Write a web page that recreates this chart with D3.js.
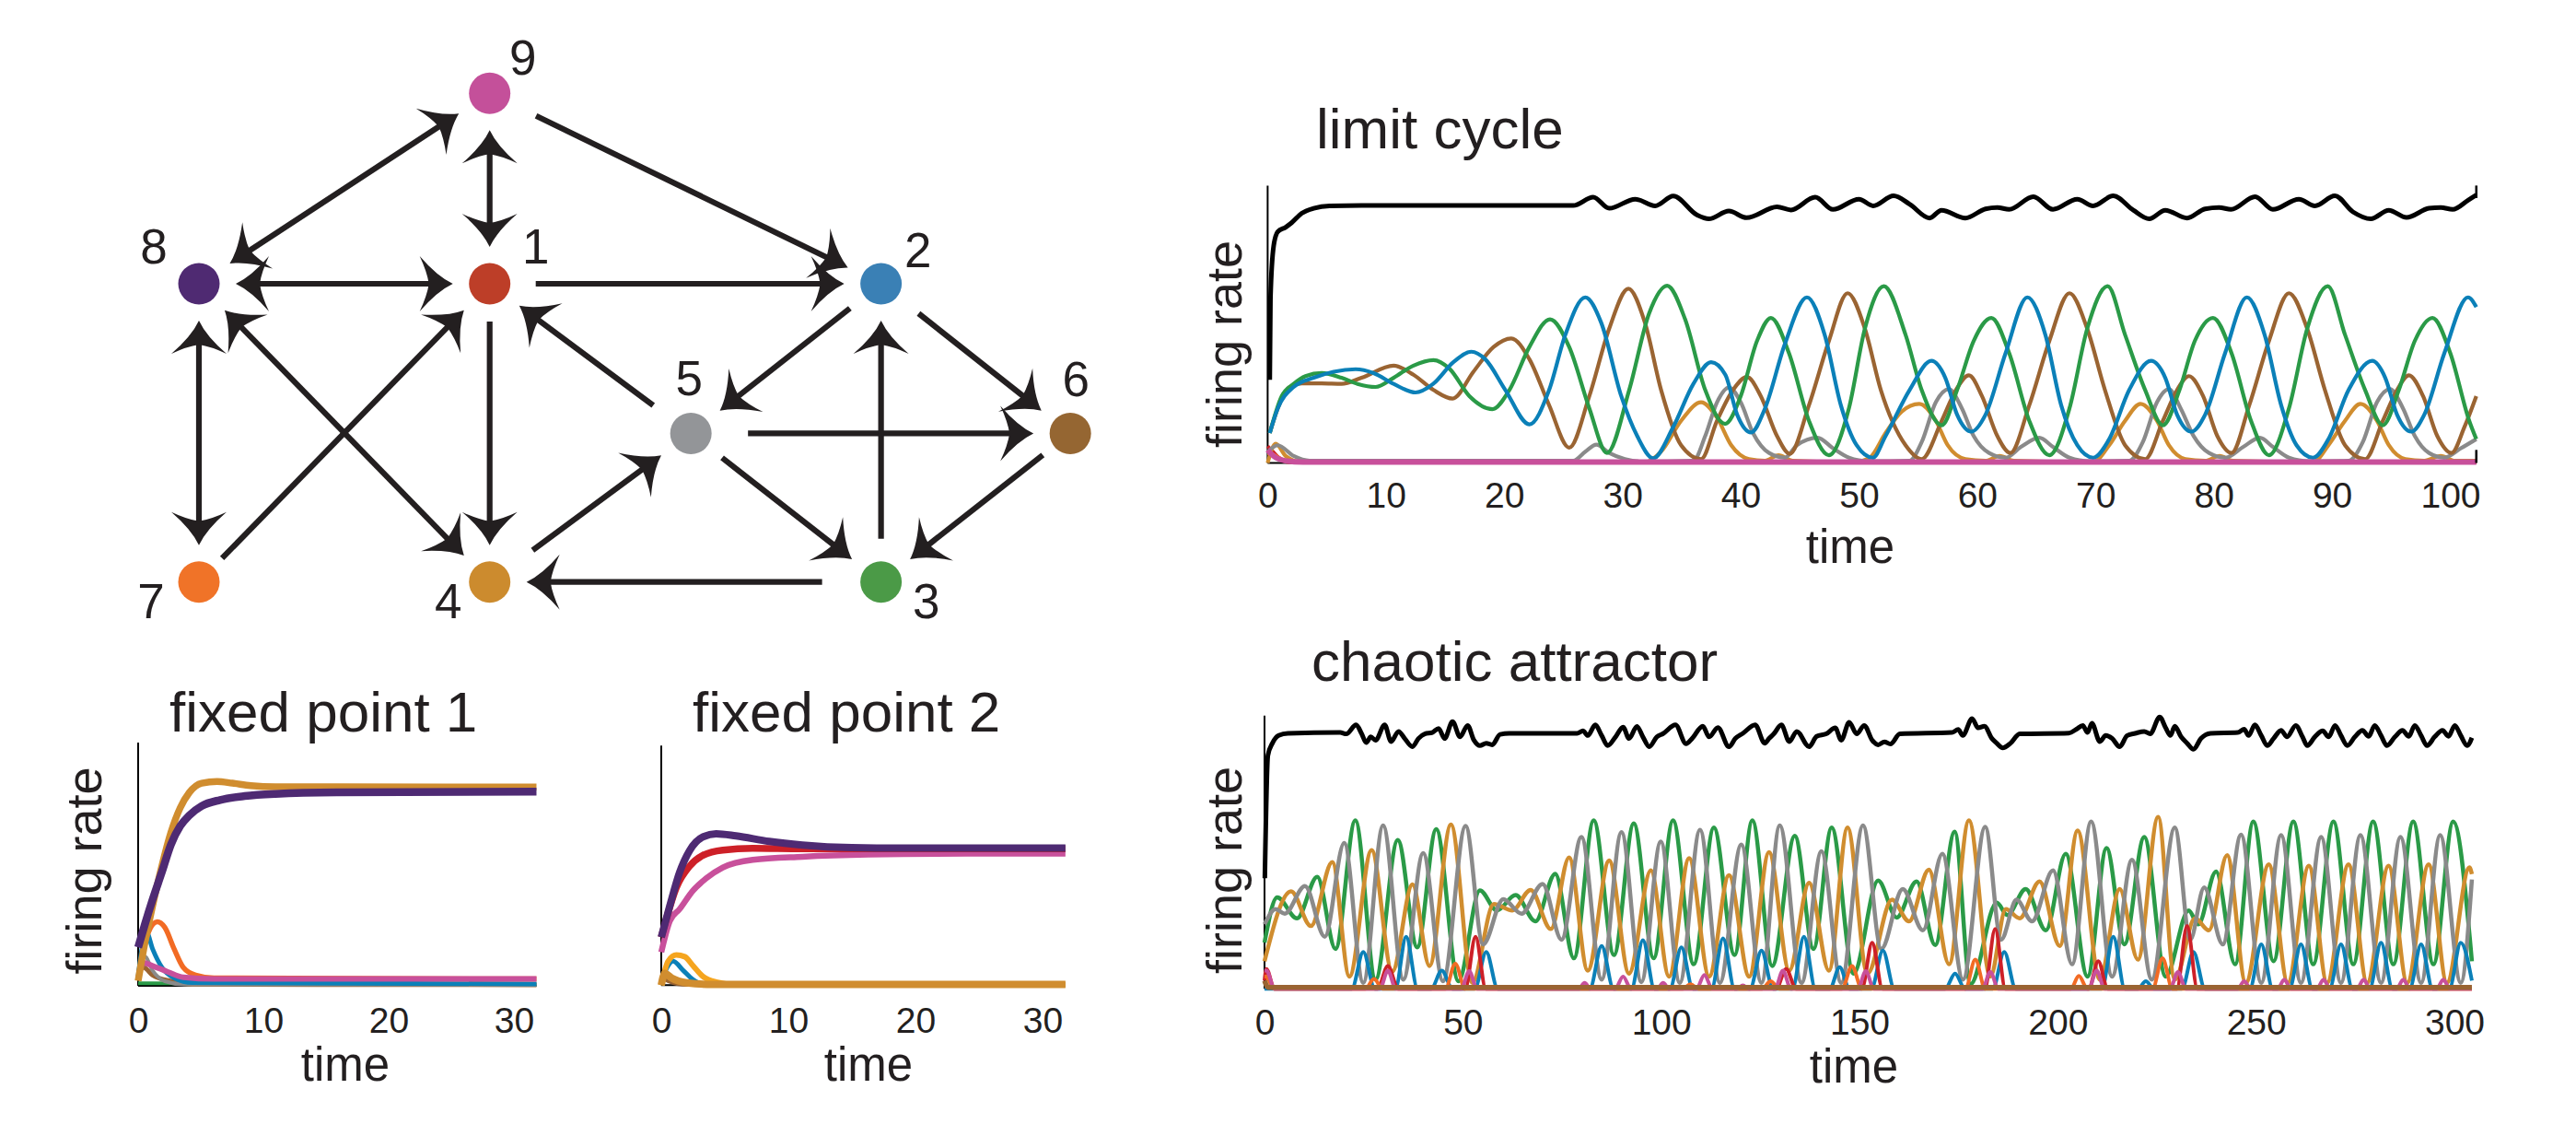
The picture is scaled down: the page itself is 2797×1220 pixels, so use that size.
<!DOCTYPE html>
<html>
<head>
<meta charset="utf-8">
<script src="https://cdn.jsdelivr.net/npm/d3@7/dist/d3.min.js"></script>
<style>
html,body{margin:0;padding:0;background:#fff;}
svg{display:block;}
text{font-family:"Liberation Sans",Arial,Helvetica,sans-serif;fill:#231f20;}
</style>
</head>
<body>
<svg id="fig" width="2797" height="1220"></svg>
<script>
// ---------------- DATA ----------------
const nodeIds = [1,2,3,4,5,6,7,8,9];
// [from, to, bidirectional]
const edges = [[9,8,true],[9,1,true],[9,2,false],[8,1,true],[1,2,false],[8,7,true],[7,1,false],[8,4,true],
  [1,4,false],[4,5,false],[5,1,false],[2,5,false],[2,6,false],[5,6,false],[5,3,false],[3,2,false],[6,3,false],[3,4,false]];

const ticksLimit = [0,10,20,30,40,50,60,70,80,90,100];
const ticksChaos = [0,50,100,150,200,250,300];
const ticksFixed = [0,10,20,30];

// limit cycle  [time, firing rate]
const lcBlack = [[0.18,0.30],[0.24,0.595],[0.51,0.783],[0.85,0.833],[1.53,0.850],[2.03,0.866],[2.88,0.90],[3.89,0.918],[5.24,0.927],[7.94,0.928],[25.84,0.928],[27.53,0.958],[28.88,0.918],[31.08,0.951],[32.77,0.927],[34.3,0.962],[36.3,0.894],[37.3,0.880],[39.0,0.908],[40.5,0.884],[43.07,0.923],[44.25,0.912],[46.3,0.958],[47.8,0.914],[50.0,0.951],[51.2,0.927],[52.93,0.963],[54.28,0.933],[55.97,0.883],[56.98,0.911],[59.0,0.883],[60.7,0.916],[61.7,0.921],[62.7,0.914],[64.75,0.960],[66.4,0.914],[68.46,0.951],[69.8,0.927],[71.5,0.963],[73.2,0.911],[74.54,0.880],[75.9,0.911],[77.75,0.883],[79.27,0.916],[80.45,0.921],[81.46,0.914],[83.5,0.960],[85.0,0.914],[87.2,0.951],[88.56,0.927],[90.24,0.963],[91.77,0.905],[93.28,0.880],[94.8,0.911],[96.3,0.885],[98.2,0.918],[99.2,0.921],[100.2,0.914],[101.56,0.949],[102.2,0.966]];
const lcBlue = [[0.18,0.108],[0.85,0.196],[2.2,0.274],[3.89,0.307],[5.58,0.329],[7.44,0.338],[8.96,0.324],[10.65,0.285],[12.5,0.254],[14.0,0.285],[15.7,0.363],[17.23,0.401],[18.4,0.374],[20.1,0.263],[22.13,0.139],[23.8,0.263],[25.17,0.462],[26.86,0.597],[28.2,0.506],[29.9,0.241],[31.25,0.097],[32.6,0.017],[34.3,0.130],[36.0,0.285],[37.5,0.363],[38.7,0.318],[39.7,0.174],[40.87,0.110],[42.05,0.196],[43.74,0.429],[45.6,0.597],[47.1,0.462],[48.47,0.208],[49.8,0.064],[51.17,0.019],[52.25,0.097],[54.28,0.263],[56.13,0.368],[57.3,0.307],[58.3,0.174],[59.5,0.113],[60.7,0.174],[62.4,0.396],[64.24,0.597],[65.76,0.462],[67.1,0.208],[68.46,0.064],[69.8,0.019],[71.16,0.086],[72.85,0.263],[74.7,0.368],[75.9,0.307],[76.9,0.174],[78.1,0.113],[79.27,0.174],[80.96,0.396],[82.8,0.597],[84.3,0.462],[85.7,0.208],[87.0,0.064],[88.4,0.019],[89.7,0.086],[91.4,0.263],[93.4,0.368],[94.5,0.307],[95.5,0.174],[96.7,0.113],[97.8,0.174],[99.5,0.396],[101.5,0.597],[102.2,0.562]];
const lcGreen = [[0.18,0.108],[1.19,0.241],[2.2,0.285],[3.2,0.313],[4.57,0.324],[6.25,0.307],[7.6,0.285],[9.13,0.274],[10.65,0.307],[12.33,0.351],[14.02,0.371],[15.37,0.340],[17.06,0.241],[19.0,0.194],[20.44,0.263],[22.13,0.418],[23.88,0.518],[25.5,0.418],[27.2,0.197],[28.7,0.036],[30.57,0.263],[32.26,0.540],[33.78,0.639],[35.3,0.518],[37.0,0.263],[38.68,0.141],[40.0,0.241],[41.38,0.440],[42.56,0.523],[44.08,0.396],[45.77,0.152],[47.46,0.028],[49.15,0.197],[50.5,0.484],[52.1,0.637],[53.94,0.462],[55.3,0.263],[57.0,0.136],[58.3,0.263],[59.7,0.440],[61.2,0.523],[62.7,0.396],[64.4,0.152],[66.1,0.028],[67.8,0.197],[69.3,0.484],[71.03,0.637],[72.5,0.462],[74.2,0.263],[75.7,0.136],[77.1,0.263],[78.4,0.440],[79.94,0.523],[81.5,0.396],[83.15,0.152],[84.67,0.028],[86.36,0.197],[87.9,0.484],[89.64,0.637],[91.1,0.462],[92.8,0.263],[94.3,0.136],[95.65,0.263],[97.0,0.440],[98.5,0.523],[100.0,0.396],[101.6,0.152],[102.2,0.086]];
const lcBrown = [[0.18,0.108],[0.85,0.196],[1.86,0.274],[2.88,0.287],[4.57,0.287],[6.25,0.285],[7.94,0.307],[10.65,0.351],[12.33,0.318],[14.02,0.263],[15.64,0.232],[17.4,0.329],[19.1,0.418],[20.6,0.449],[22.13,0.374],[23.8,0.208],[25.5,0.055],[27.2,0.241],[28.88,0.484],[30.5,0.628],[31.9,0.506],[33.27,0.263],[34.96,0.064],[36.65,0.014],[38.0,0.152],[39.35,0.263],[40.53,0.310],[41.7,0.241],[43.07,0.097],[44.15,0.033],[45.77,0.208],[47.46,0.440],[49.04,0.612],[50.5,0.484],[51.85,0.263],[53.94,0.064],[55.3,0.014],[57.0,0.152],[58.2,0.263],[59.3,0.316],[60.4,0.241],[61.7,0.097],[62.8,0.036],[64.4,0.208],[66.1,0.440],[67.8,0.612],[69.3,0.484],[70.8,0.263],[72.5,0.064],[74.2,0.014],[75.7,0.152],[76.9,0.263],[77.9,0.313],[79.1,0.241],[80.3,0.097],[81.5,0.036],[83.0,0.208],[84.67,0.440],[86.36,0.612],[87.9,0.484],[89.4,0.263],[91.1,0.064],[92.8,0.014],[94.3,0.152],[95.5,0.263],[96.5,0.316],[97.7,0.241],[98.9,0.097],[100.1,0.036],[101.2,0.130],[102.2,0.241]];
const lcGold = [[0,0],[0.68,0.069],[1.53,0.025],[2.88,0.003],[31.9,0.003],[33.27,0.041],[34.96,0.152],[36.65,0.219],[38.0,0.163],[39.2,0.064],[40.7,0.014],[42.05,0.008],[43.2,0.028],[44.4,0.008],[49.5,0.003],[50.9,0.019],[52.25,0.108],[53.6,0.185],[55.1,0.213],[56.5,0.152],[57.5,0.064],[59.0,0.014],[60.7,0.008],[61.9,0.025],[63.1,0.008],[69.8,0.003],[71.16,0.064],[72.5,0.152],[73.8,0.213],[75.2,0.152],[76.2,0.064],[77.6,0.014],[79.27,0.008],[80.5,0.025],[81.6,0.008],[88.4,0.003],[89.7,0.064],[91.1,0.152],[92.4,0.213],[93.8,0.152],[94.8,0.064],[96.2,0.014],[97.8,0.008],[99.2,0.025],[100.4,0.008],[102.2,0.008]];
const lcGray = [[0,0.04],[0.85,0.064],[2.2,0.025],[3.55,0.008],[25.84,0.008],[26.86,0.041],[27.8,0.066],[28.88,0.036],[30.2,0.014],[31.6,0.005],[36.0,0.008],[37.0,0.097],[38.0,0.219],[39.0,0.272],[40.0,0.219],[41.04,0.108],[42.4,0.036],[43.74,0.019],[44.75,0.064],[46.5,0.091],[47.8,0.053],[49.15,0.019],[50.8,0.006],[54.28,0.008],[55.3,0.075],[56.5,0.219],[57.6,0.266],[58.7,0.197],[59.7,0.097],[61.0,0.036],[62.4,0.019],[63.7,0.058],[65.25,0.091],[66.4,0.058],[67.8,0.019],[69.5,0.006],[72.85,0.008],[74.0,0.075],[75.2,0.219],[76.2,0.266],[77.2,0.197],[78.3,0.097],[79.6,0.036],[81.0,0.019],[82.5,0.058],[83.9,0.091],[85.0,0.058],[86.36,0.019],[88.05,0.006],[91.4,0.008],[92.6,0.075],[93.8,0.219],[94.9,0.266],[96.0,0.197],[97.0,0.097],[98.2,0.036],[99.5,0.019],[100.9,0.053],[102.2,0.086]];
const lcPink = [[0,0.047],[0.5,0.025],[1.5,0.008],[3,0.003],[102.2,0.003]];
const lcRed = [[0,0.06],[0.35,0.045],[0.9,0.02],[1.8,0.003],[102.2,0.003]];
const lcOrange = [[0,0.035],[0.5,0.03],[1.5,0.008],[3,0.002],[102.2,0.002]];

// chaotic attractor [time, firing rate]
const caBlack = [[0.08,0.405],[0.85,0.854],[2.0,0.899],[3.57,0.927],[5.89,0.935],[19.07,0.938],[20.6,0.933],[23.1,0.966],[24.5,0.933],[25.66,0.901],[26.8,0.922],[28.0,0.910],[30.3,0.966],[31.9,0.905],[33.8,0.942],[35.35,0.916],[37.3,0.886],[38.8,0.916],[40.4,0.933],[42.3,0.938],[43.9,0.953],[45.4,0.916],[47.4,0.978],[49.3,0.922],[51.2,0.964],[52.8,0.910],[54.3,0.890],[55.9,0.899],[57.4,0.893],[59.4,0.931],[61.7,0.935],[78.8,0.935],[80.3,0.944],[81.5,0.927],[83.4,0.966],[85.0,0.927],[86.5,0.890],[88.5,0.922],[90.4,0.958],[91.9,0.916],[93.9,0.960],[95.4,0.922],[97.0,0.886],[98.9,0.922],[100.5,0.934],[103.6,0.966],[106.3,0.897],[107.8,0.916],[110.5,0.961],[112.1,0.922],[114.3,0.956],[117.1,0.886],[118.7,0.916],[120.6,0.935],[123.7,0.966],[126.1,0.899],[127.2,0.916],[128.4,0.933],[130.3,0.966],[132.3,0.905],[134.2,0.942],[137.3,0.886],[139.2,0.924],[141.6,0.933],[143.9,0.955],[145.4,0.910],[147.4,0.975],[149.3,0.933],[151.2,0.964],[153.2,0.910],[154.7,0.893],[156.3,0.904],[157.8,0.896],[160.2,0.933],[173.3,0.938],[174.9,0.949],[176.05,0.927],[178.4,0.989],[179.9,0.955],[181.5,0.961],[183.4,0.916],[184.6,0.899],[186.1,0.882],[188.1,0.899],[190.4,0.933],[202.8,0.936],[204.7,0.950],[206.3,0.964],[207.5,0.938],[208.6,0.972],[210.6,0.905],[212.1,0.927],[213.7,0.916],[215.6,0.886],[217.5,0.927],[219.5,0.935],[221.8,0.942],[223.3,0.933],[225.7,0.995],[227.2,0.955],[228.4,0.927],[229.5,0.961],[231.1,0.922],[232.6,0.899],[234.2,0.877],[236.1,0.916],[238.5,0.935],[245.4,0.938],[247.0,0.950],[248.1,0.927],[249.7,0.966],[251.3,0.927],[252.8,0.890],[254.4,0.916],[256.3,0.946],[257.8,0.922],[260.0,0.964],[261.7,0.922],[262.9,0.890],[264.8,0.922],[266.8,0.944],[268.3,0.922],[269.9,0.964],[271.4,0.927],[273.0,0.890],[274.9,0.922],[276.8,0.946],[278.4,0.924],[279.9,0.964],[281.5,0.927],[283.0,0.890],[285.0,0.922],[286.9,0.946],[288.5,0.924],[290.0,0.964],[291.6,0.927],[293.1,0.890],[295.0,0.922],[297.0,0.946],[298.5,0.924],[300.1,0.964],[301.6,0.927],[303.2,0.890],[304.4,0.919]];
const caGreen = [[0,0.169],[3.2,0.335],[8.2,0.258],[13.3,0.410],[17.9,0.146],[22.9,0.616],[28.0,0.034],[33.6,0.545],[38.5,0.152],[43.3,0.584],[48.9,0.028],[54.3,0.360],[58.6,0.287],[63.3,0.343],[68.3,0.247],[73.3,0.421],[78.0,0.112],[83.0,0.616],[88.1,0.124],[93.1,0.605],[98.1,0.112],[103.0,0.616],[108.2,0.090],[113.3,0.590],[118.5,0.124],[123.0,0.616],[128.0,0.084],[133.7,0.560],[138.4,0.146],[143.0,0.590],[148.5,0.056],[154.7,0.396],[159.4,0.261],[164.4,0.393],[169.1,0.160],[174.0,0.575],[178.0,0.017],[184.6,0.315],[187.3,0.270],[191.9,0.365],[197.0,0.214],[202.0,0.494],[207.5,0.045],[212.3,0.515],[216.8,0.163],[221.8,0.556],[227.2,0.045],[233.0,0.287],[235.4,0.236],[239.9,0.429],[244.7,0.090],[249.3,0.612],[254.4,0.101],[259.4,0.612],[264.4,0.090],[269.5,0.612],[274.5,0.090],[279.5,0.612],[284.6,0.090],[289.6,0.612],[294.7,0.090],[299.7,0.612],[304.4,0.101]];
const caGold = [[0,0.101],[6.7,0.357],[11.7,0.230],[17.1,0.464],[21.4,0.045],[27.0,0.508],[32.2,0.062],[37.3,0.382],[41.6,0.084],[47.0,0.601],[52.4,0.022],[57.8,0.310],[62.5,0.287],[67.1,0.362],[72.2,0.219],[76.8,0.481],[81.5,0.067],[86.9,0.470],[91.9,0.056],[97.4,0.433],[102.0,0.045],[107.06,0.478],[112.1,0.045],[117.1,0.416],[122.2,0.045],[127.2,0.500],[132.3,0.067],[137.3,0.388],[142.3,0.067],[147.0,0.590],[152.0,0.056],[158.2,0.326],[162.5,0.247],[167.5,0.436],[172.6,0.090],[177.6,0.616],[183.0,0.045],[186.9,0.292],[190.4,0.258],[195.4,0.393],[200.5,0.157],[205.0,0.579],[210.6,0.034],[215.6,0.365],[220.2,0.107],[225.3,0.629],[229.5,0.034],[234.6,0.258],[238.1,0.214],[242.7,0.489],[247.4,0.022],[253.2,0.455],[258.0,0.022],[263.3,0.450],[267.9,0.022],[273.3,0.455],[278.0,0.022],[283.4,0.450],[288.1,0.022],[293.5,0.455],[298.1,0.022],[303.8,0.444],[304.4,0.420]];
const caGray = [[0,0.236],[2.8,0.292],[5.1,0.275],[10.2,0.376],[15.2,0.191],[20.1,0.534],[24.9,0.022],[29.9,0.598],[35.0,0.034],[40.0,0.497],[45.0,0.028],[50.7,0.596],[55.1,0.163],[60.2,0.328],[64.8,0.275],[70.1,0.384],[74.9,0.180],[79.9,0.556],[85.0,0.034],[90.0,0.573],[95.0,0.025],[99.9,0.539],[104.7,0.022],[109.8,0.582],[114.8,0.022],[120.2,0.528],[125.3,0.022],[129.9,0.598],[135.4,0.022],[140.4,0.503],[145.4,0.022],[150.9,0.598],[155.5,0.146],[160.9,0.365],[166.0,0.214],[170.9,0.494],[176.1,0.034],[181.7,0.593],[185.7,0.180],[189.6,0.326],[193.5,0.247],[198.8,0.433],[203.6,0.090],[208.4,0.612],[213.7,0.045],[218.7,0.472],[223.7,0.034],[229.5,0.590],[233.4,0.180],[236.9,0.371],[241.6,0.163],[246.2,0.564],[251.3,0.022],[256.3,0.562],[261.3,0.022],[266.4,0.556],[271.4,0.022],[276.3,0.562],[281.5,0.022],[286.4,0.556],[291.6,0.022],[296.4,0.562],[301.6,0.022],[304.4,0.400]];
const caBlue = [[0,0],[22,0],[24.9,0.135],[27.8,0],[33,0],[35.7,0.191],[38.6,0],[42,0],[44.7,0.067],[47.4,0],[53,0],[55.9,0.135],[58.8,0],[82,0],[85.0,0.157],[88,0],[92.5,0],[95.4,0.178],[98.3,0],[102.2,0],[105.1,0.152],[108,0],[112.7,0],[115.6,0.185],[118.5,0],[122.4,0],[125.3,0.140],[128.2,0],[133.1,0],[136.0,0.191],[138.9,0],[142.5,0],[145.0,0.079],[147.5,0],[153,0],[155.9,0.140],[158.8,0],[171.6,0],[174.1,0.056],[176.6,0],[183.6,0],[186.5,0.135],[189.4,0],[211.1,0],[214.0,0.191],[216.9,0],[220.2,0],[222.2,0.028],[224.2,0],[231.3,0],[234.2,0.135],[237.1,0],[248.4,0],[251.3,0.163],[254.2,0],[258.4,0],[261.3,0.163],[264.2,0],[268.5,0],[271.4,0.163],[274.3,0],[278.6,0],[281.5,0.169],[284.4,0],[288.7,0],[291.6,0.163],[294.5,0],[298.7,0],[301.6,0.169],[304.4,0.03]];
const caRed = [[0,0.03],[0.47,0.073],[2.5,0],[28.5,0],[31.1,0.084],[33.7,0],[50.6,0],[53.2,0.191],[55.8,0],[129,0],[131.5,0.073],[134,0],[150.6,0],[153.2,0.169],[155.8,0],[181.6,0],[184.2,0.219],[186.8,0],[207.8,0],[210.2,0.101],[212.6,0],[230,0],[232.6,0.230],[235.2,0],[304.4,0]];
const caOrange = [[0,0.045],[0.3,0.045],[2.5,0],[25.4,0],[27.6,0.036],[29.8,0],[45.6,0],[48.1,0.092],[50.6,0],[105.4,0],[107.4,0.017],[109.4,0],[125.4,0],[127.6,0.028],[129.8,0],[145.6,0],[148.1,0.084],[150.6,0],[176.7,0],[179.2,0.107],[181.7,0],[203.3,0],[205.3,0.047],[207.5,0],[223.9,0],[226.4,0.112],[228.9,0],[304.4,0]];
const caPink = [[0,0.067],[0.5,0.067],[2.5,0],[29.1,0],[31.1,0.067],[33.1,0],[49.6,0],[51.6,0.065],[53.6,0],[79.2,0],[80.7,0.022],[82.2,0],[88.4,0],[90.4,0.045],[92.4,0],[99,0],[100.5,0.022],[102,0],[108.9,0],[110.9,0.051],[112.9,0],[119.1,0],[120.6,0.013],[122.1,0],[128.7,0],[130.7,0.067],[132.7,0],[149.6,0],[151.6,0.065],[153.6,0],[181,0],[183.0,0.062],[185,0],[207.8,0],[209.8,0.067],[211.8,0],[228.3,0],[230.3,0.062],[232.3,0],[245.3,0],[247.0,0.028],[248.7,0],[255.4,0],[257.1,0.034],[258.8,0],[265.3,0],[267.0,0.034],[268.7,0],[275.4,0],[277.1,0.034],[278.8,0],[285.4,0],[287.1,0.034],[288.8,0],[295.5,0],[297.2,0.034],[298.9,0],[304.4,0]];
const caBrown = [[0,0.03],[1,0.005],[304.4,0.005]];

// fixed point 1
const fp1Gold = [[0,0.02],[0.54,0.177],[1.15,0.328],[1.89,0.492],[2.62,0.631],[3.36,0.732],[4.09,0.795],[5.07,0.833],[6.3,0.840],[7.52,0.833],[9.0,0.823],[10.96,0.818],[15.86,0.818],[31.8,0.817]];
const fp1Purple = [[0,0.158],[0.54,0.253],[1.15,0.354],[1.89,0.467],[2.62,0.581],[3.36,0.657],[4.09,0.701],[5.07,0.739],[6.54,0.764],[8.5,0.780],[10.96,0.789],[15.86,0.795],[31.8,0.798]];
const fp1Orange = [[0,0.03],[0.78,0.215],[1.52,0.263],[2.13,0.240],[2.87,0.152],[3.6,0.076],[4.58,0.044],[6.05,0.032],[31.8,0.028]];
const fp1Blue = [[0,0.04],[0.66,0.221],[1.15,0.152],[1.89,0.076],[2.87,0.032],[4.34,0.013],[31.8,0.008]];
const fp1Gray = [[0,0.06],[0.54,0.120],[1.15,0.063],[2.13,0.019],[3.6,0.006],[31.8,0.004]];
const fp1Brown = [[0,0.05],[0.42,0.076],[1.15,0.044],[2.62,0.019],[4.34,0.006],[31.8,0.004]];
const fp1Pink = [[0,0.025],[0.42,0.095],[1.15,0.082],[2.38,0.057],[3.6,0.035],[6.05,0.028],[31.8,0.028]];
const fp1Green = [[0,0.01],[31.8,0.006]];

// fixed point 2
const fp2Purple = [[0,0.20],[0.67,0.331],[1.45,0.472],[2.23,0.562],[3.28,0.619],[4.32,0.632],[5.88,0.623],[8.49,0.600],[11.1,0.585],[14.98,0.574],[18.9,0.572],[31.8,0.572]];
const fp2Red = [[0,0.20],[0.28,0.254],[1.19,0.408],[2.23,0.497],[3.28,0.542],[4.84,0.564],[7.2,0.571],[11.1,0.569],[31.8,0.569]];
const fp2Pink = [[0,0.138],[0.67,0.267],[1.45,0.318],[2.5,0.395],[3.54,0.446],[4.84,0.491],[7.2,0.523],[11.1,0.536],[16.3,0.545],[24.1,0.549],[31.8,0.549]];
const fp2Orange = [[0,0.0],[0.54,0.10],[1.19,0.126],[1.84,0.119],[2.5,0.081],[3.28,0.036],[4.32,0.013],[5.88,0.003],[31.8,0.002]];
const fp2Blue = [[0,0.02],[0.93,0.10],[1.71,0.062],[2.5,0.023],[3.28,0.004],[31.8,0.002]];
const fp2Brown = [[0,0.04],[0.5,0.02],[2,0.003],[31.8,0.002]];
const fp2Gold = [[0,0.0],[0.28,0.049],[0.8,0.03],[2.0,0.01],[4.0,0.003],[31.8,0.003]];

// ---------------- DRAWING ----------------
const svg = d3.select("#fig");
svg.append("rect").attr("width",2797).attr("height",1220).attr("fill","#fff");

const nodeColor = {1:"#bd3e28",2:"#3a80b5",3:"#4b9a47",4:"#cc8b2e",5:"#939598",6:"#956632",7:"#f07328",8:"#4f2a72",9:"#c4509a"};
const C = {blue:"#0b80b8",green:"#2a9a47",brown:"#9a6432",gold:"#d08d2f",gray:"#8a8a8a",pink:"#c8509b",red:"#cd2028",purple:"#4e2a73",orange:"#f26b24",amber:"#f5a51f"};

// network layout (grid units)
const layout = {1:[1,1],2:[2.346,1],3:[2.346,2.566],4:[1,2.566],5:[1.692,1.786],6:[2.997,1.786],7:[0,2.566],8:[0,1],9:[1,0]};
const gx = d3.scaleLinear([0,1],[216,531.7]);
const gy = d3.scaleLinear([0,1],[101.3,308]);
const P = id => [gx(layout[id][0]), gy(layout[id][1])];
const labelOff = {9:[36,-39],8:[-49,-41],1:[50,-41],2:[40,-37],5:[-2,-60],6:[6,-59],7:[-52,20],4:[-45,20],3:[49,20]};
const startGap = {"9-2":56,"5-1":51,"7-1":36,"3-4":64,"3-2":47,"5-6":62,"5-3":43,"4-5":58,"6-3":38,"2-5":43,"2-6":52,"1-4":41,"1-2":50};
const arrowD = "M0,0 Q-17,-8 -36,-30 Q-28,-13 -26,0 Q-28,13 -36,30 Q-17,8 0,0 Z";
const ink = "#231f20";

const net = svg.append("g");
edges.forEach(([a,b,bi]) => {
  const [x1,y1] = P(a), [x2,y2] = P(b);
  const L = Math.hypot(x2-x1,y2-y1), ux=(x2-x1)/L, uy=(y2-y1)/L;
  const tip = 40;
  const sg = bi ? tip : (startGap[a+"-"+b] || 48);
  const sx=x1+ux*sg, sy=y1+uy*sg, ex=x2-ux*tip, ey=y2-uy*tip;
  const lx1 = bi ? sx+ux*24 : sx, ly1 = bi ? sy+uy*24 : sy;
  net.append("line").attr("x1",lx1).attr("y1",ly1).attr("x2",ex-ux*24).attr("y2",ey-uy*24)
    .attr("stroke",ink).attr("stroke-width",6.2);
  const ang = Math.atan2(uy,ux)*180/Math.PI;
  net.append("path").attr("d",arrowD).attr("fill",ink).attr("transform",`translate(${ex},${ey}) rotate(${ang})`);
  if (bi) net.append("path").attr("d",arrowD).attr("fill",ink).attr("transform",`translate(${sx},${sy}) rotate(${ang+180})`);
});
nodeIds.forEach(id => {
  const [x,y] = P(id);
  net.append("circle").attr("cx",x).attr("cy",y).attr("r",22.5).attr("fill",nodeColor[id]);
  net.append("text").attr("x",x+labelOff[id][0]).attr("y",y+labelOff[id][1]+19)
    .attr("text-anchor","middle").attr("font-size",53).text(id);
});

function panel(cfg){
  const g = svg.append("g");
  const x = cfg.x, y = cfg.y;
  const line = d3.line().x(d=>x(d[0])).y(d=>y(d[1])).curve(d3.curveMonotoneX);
  g.append("line").attr("x1",x(0)).attr("x2",x(0)).attr("y1",y(0)).attr("y2",y(1)).attr("stroke","#000").attr("stroke-width",2);
  g.append("line").attr("x1",x(0)).attr("x2",x(cfg.tEnd)).attr("y1",y(0)).attr("y2",y(0)).attr("stroke","#000").attr("stroke-width",2);
  const ax = g.append("g").attr("transform",`translate(0,${y(0)})`)
    .call(d3.axisBottom(x).tickValues(cfg.ticks).tickSize(0).tickFormat(d3.format("d")));
  ax.select(".domain").remove();
  ax.selectAll("text").attr("y",cfg.tickBase - y(0)).attr("dy",null)
    .attr("font-size",39).attr("font-family","'Liberation Sans',Arial,Helvetica,sans-serif").attr("fill",ink);
  cfg.series.forEach(s => {
    g.append("path").datum(s.data).attr("d",line).attr("fill","none")
      .attr("stroke",s.color).attr("stroke-width",s.w).attr("stroke-linejoin","round").attr("stroke-linecap","butt");
  });
  g.append("text").attr("x",cfg.title[1]).attr("y",cfg.title[2]).attr("font-size",62).text(cfg.title[0]);
  g.append("text").attr("x",cfg.timeLab[0]).attr("y",cfg.timeLab[1]).attr("text-anchor","middle").attr("font-size",51).text("time");
  if (cfg.yLab) g.append("text").attr("transform",`translate(${cfg.yLab[0]},${cfg.yLab[1]}) rotate(-90)`)
    .attr("text-anchor","middle").attr("font-size",54).text("firing rate");
  return g;
}

const lcX = d3.scaleLinear([0,100],[1376.4,2660.5]), lcY = d3.scaleLinear([0,1],[502.5,201.4]);
const lc = panel({
  x: lcX, y: lcY, tEnd:102.2,
  ticks: ticksLimit, tickBase: 551, title:["limit cycle",1429,161], timeLab:[2009,611], yLab:[1348,373.5],
  series:[
    {data:lcRed,color:C.red,w:4},{data:lcOrange,color:C.orange,w:4},
    {data:lcGold,color:C.gold,w:4.2},{data:lcGray,color:C.gray,w:4.2},
    {data:lcBrown,color:C.brown,w:4.2},{data:lcGreen,color:C.green,w:4.2},{data:lcBlue,color:C.blue,w:4.2},
    {data:lcPink,color:C.pink,w:6},{data:lcBlack,color:"#000",w:5}
  ]
});
lc.append("line").attr("x1",lcX(102.2)).attr("x2",lcX(102.2)).attr("y1",lcY(1)).attr("y2",lcY(0.955)).attr("stroke","#000").attr("stroke-width",2.5);
lc.append("line").attr("x1",lcX(102.2)).attr("x2",lcX(102.2)).attr("y1",lcY(0.047)).attr("y2",lcY(0)).attr("stroke","#000").attr("stroke-width",2.5);

panel({
  x: d3.scaleLinear([0,300],[1373,2665]), y: d3.scaleLinear([0,1],[1073.3,776.7]), tEnd:304.4,
  ticks: ticksChaos, tickBase: 1123, title:["chaotic attractor",1424,739], timeLab:[2013,1175], yLab:[1348,944.5],
  series:[
    {data:caGreen,color:C.green,w:4.5},{data:caGold,color:C.gold,w:4.5},{data:caGray,color:C.gray,w:4.5},
    {data:caBlue,color:C.blue,w:4},{data:caRed,color:C.red,w:4},{data:caOrange,color:C.orange,w:4},
    {data:caPink,color:C.pink,w:4},{data:caBrown,color:C.brown,w:5.5},{data:caBlack,color:"#000",w:5}
  ]
});

panel({
  x: d3.scaleLinear([0,30],[150,558]), y: d3.scaleLinear([0,1],[1070,806]), tEnd:31.8,
  ticks: ticksFixed, tickBase: 1121, title:["fixed point 1",184,794], timeLab:[375,1173], yLab:[110,945],
  series:[
    {data:fp1Green,color:C.green,w:4},{data:fp1Brown,color:C.brown,w:5},{data:fp1Gray,color:C.gray,w:4},
    {data:fp1Blue,color:C.blue,w:5},{data:fp1Orange,color:C.orange,w:5.5},{data:fp1Pink,color:C.pink,w:6},
    {data:fp1Gold,color:C.gold,w:7.5},{data:fp1Purple,color:C.purple,w:8.5}
  ]
});

panel({
  x: d3.scaleLinear([0,30],[718,1132]), y: d3.scaleLinear([0,1],[1069.3,809.3]), tEnd:31.8,
  ticks: ticksFixed, tickBase: 1121, title:["fixed point 2",752,794], timeLab:[943,1173], yLab:null,
  series:[
    {data:fp2Brown,color:C.brown,w:5},{data:fp2Blue,color:C.blue,w:5},{data:fp2Orange,color:C.amber,w:6},
    {data:fp2Gold,color:C.gold,w:8},{data:fp2Pink,color:C.pink,w:6.5},{data:fp2Red,color:C.red,w:7.5},
    {data:fp2Purple,color:C.purple,w:8}
  ]
});
</script>
</body>
</html>
